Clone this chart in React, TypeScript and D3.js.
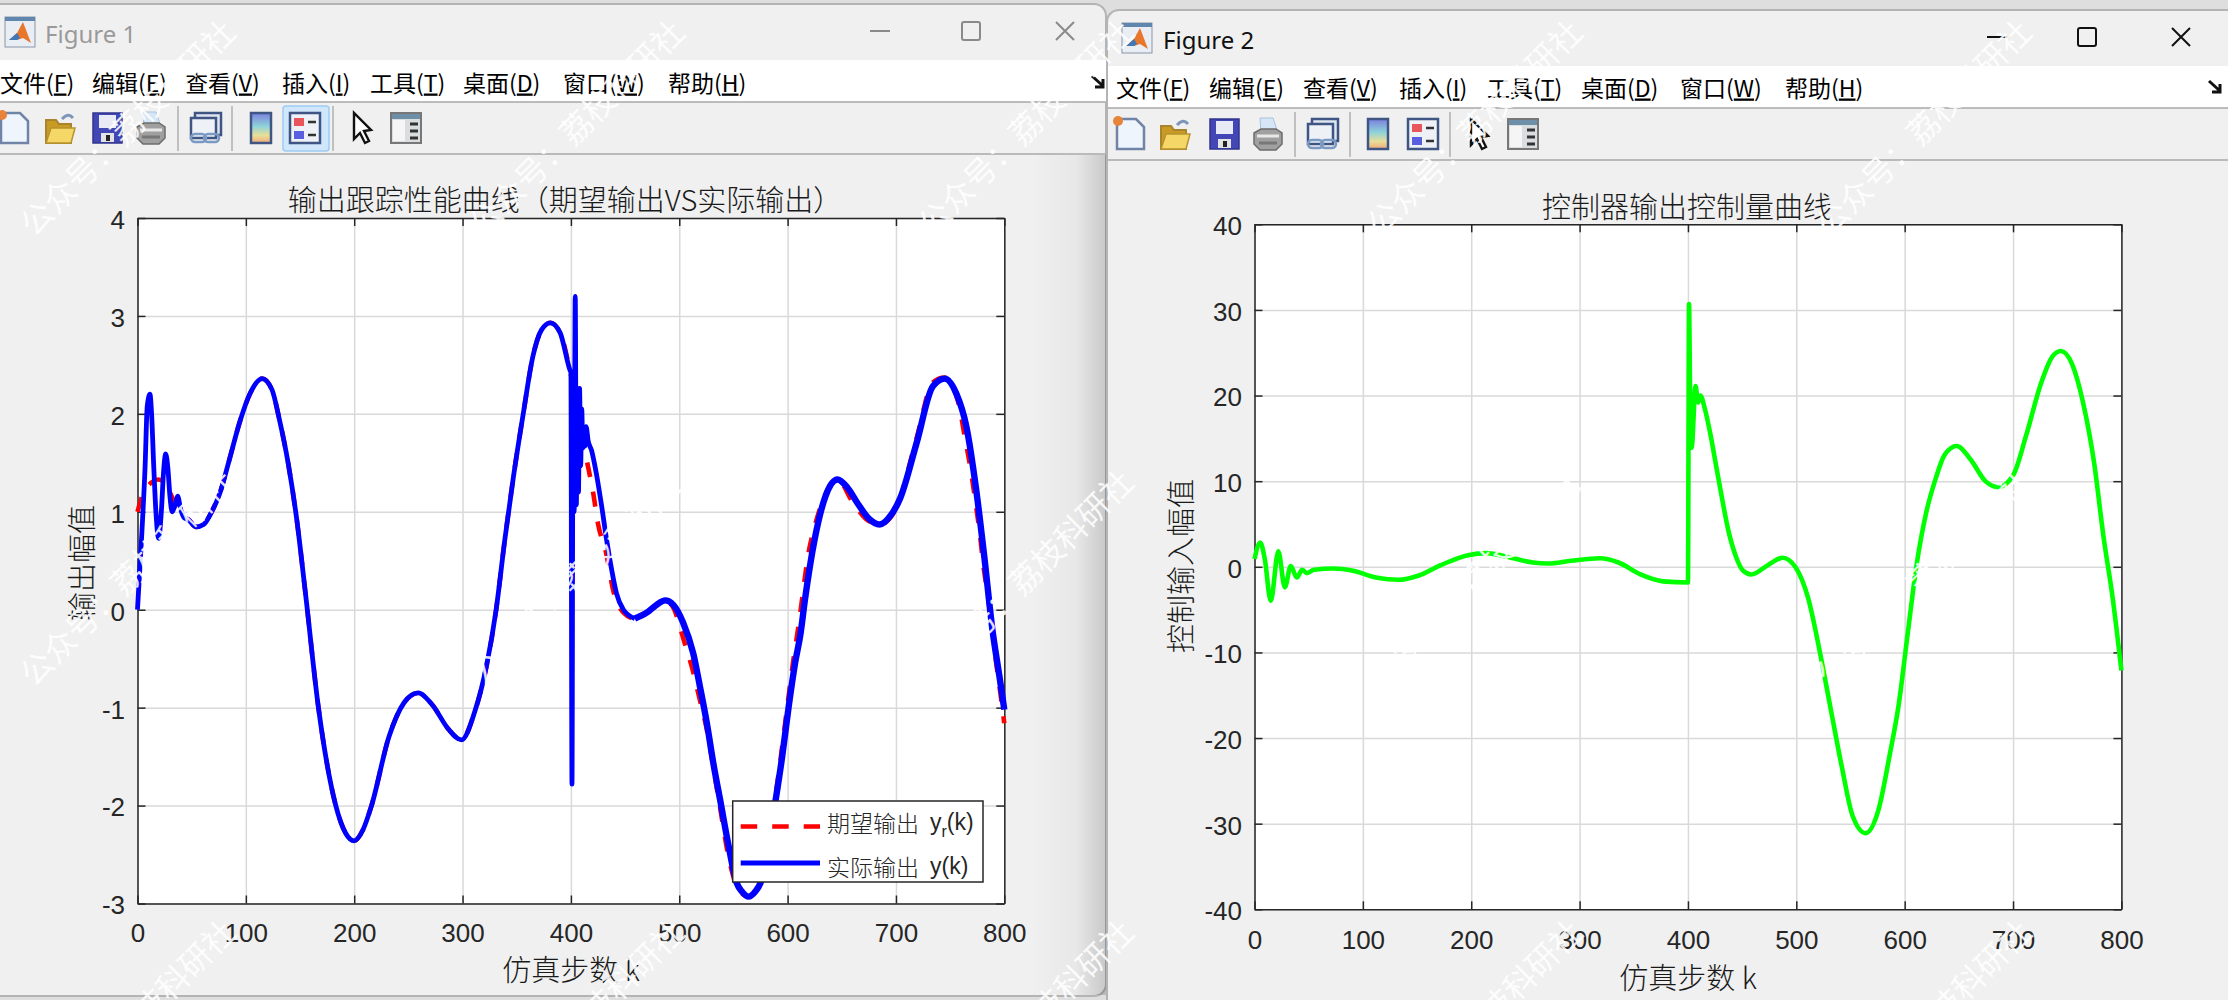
import { useEffect, useRef } from "react"
import type { ReactNode } from "react"
import * as d3 from "d3"

// values
const xTickValues = [0, 100, 200, 300, 400, 500, 600, 700, 800]
const outputTicks = [-3, -2, -1, 0, 1, 2, 3, 4]
const controlTicks = [-40, -30, -20, -10, 0, 10, 20, 30, 40]

// before k=400 the desired and actual outputs sit on top of each other
const sharedK = [43, 47, 54, 61, 68, 76, 84, 95, 104, 115, 124, 131, 139, 147, 155, 167, 183, 192, 200, 208, 216, 232, 246, 259, 272, 287, 299, 311, 322, 331, 339, 347, 356, 365, 373, 381, 390, 399]
const sharedV = [0.94, 0.92, 0.845, 0.87, 0.99, 1.19, 1.5, 1.94, 2.21, 2.36, 2.25, 1.94, 1.5, 0.92, 0.17, -1.0, -2.0, -2.28, -2.36, -2.25, -2.0, -1.3, -0.95, -0.85, -0.97, -1.22, -1.33, -1.05, -0.58, 0, 0.715, 1.36, 2.0, 2.59, 2.86, 2.93, 2.83, 2.45]

const actualK = [0, 4, 7, 9, 11.5, 13, 15, 17, 19.5, 22, 24, 26, 28, 30, 32, 35, 37, 40, ...sharedK,
  400, 401, 402, 403, 404, 405, 406, 407, 408, 409, 410, 411, 412, 413, 414, 416, 419, 423.5, 428.5, 433, 437.6, 442, 448.5, 459, 470, 479, 487, 494.5, 503.5, 513, 519, 525.5, 531.5, 537.7, 545, 553, 558, 564, 570, 575, 589, 595, 601, 607, 612, 616, 625, 635, 646, 655, 665, 675, 685, 695, 704, 719, 734, 745, 755.6, 765, 774, 781.5, 789, 795.5, 800]
const actualV = [0, 0.78, 1.46, 2.08, 2.2, 2.0, 1.46, 1.0, 0.73, 1.0, 1.4, 1.59, 1.45, 1.15, 1.0, 1.08, 1.16, 1.02, ...sharedV,
  2.42, -1.78, 2.4, 1.0, 3.2, 1.07, 2.1, 1.2, 2.26, 1.47, 2.05, 1.65, 1.85, 1.67, 1.87, 1.72, 1.63, 1.39, 1.05, 0.71, 0.41, 0.17, 0, -0.09, -0.03, 0.05, 0.095, 0.05, -0.13, -0.45, -0.78, -1.16, -1.57, -1.94, -2.38, -2.79, -2.88, -2.93, -2.88, -2.79, -1.94, -1.5, -0.99, -0.54, -0.24, 0.1, 0.72, 1.16, 1.33, 1.25, 1.08, 0.93, 0.87, 0.96, 1.14, 1.7, 2.28, 2.36, 2.21, 1.87, 1.23, 0.545, -0.2, -0.68, -1.02]

const desiredK = [0, 4, 13, 19, 25, 34, ...sharedK,
  400, 408, 414, 420.6, 425, 432.5, 439, 448.5, 459, 470, 479, 487, 494, 505, 511.5, 519, 525, 536, 547, 553, 564, 575, 589.6, 599, 605, 610, 620, 625, 635, 646, 660, 672, 685, 700, 719, 734, 745, 757.7, 763.9, 769, 773, 777.7, 780.8, 784.5, 788.5, 792.5, 796, 800]
const desiredV = [1.0, 1.15, 1.3, 1.33, 1.3, 1.1, ...sharedV,
  2.4, 1.9, 1.56, 1.19, 0.88, 0.58, 0.2, -0.03, -0.09, -0.03, 0.04, 0.09, 0.03, -0.34, -0.58, -0.92, -1.2, -1.91, -2.6, -2.82, -2.93, -2.75, -1.84, -1.05, -0.54, -0.17, 0.62, 0.85, 1.18, 1.33, 1.1, 0.93, 0.87, 1.03, 1.75, 2.32, 2.37, 2.11, 1.74, 1.43, 1.13, 0.75, 0.44, 0.17, -0.17, -0.54, -0.82, -1.16]

const controlK = [0, 5.3, 9.5, 15, 22, 28, 33.5, 39, 44, 48.4, 55, 73, 91, 112, 133, 151, 172, 197, 214.4, 235.6, 257, 271, 292, 318.6, 336, 355.7, 377, 400,
  401, 402, 403.4, 407, 409.4, 411.5, 415.7, 421, 426, 431.6, 437, 444, 451, 458.5, 474, 487.5, 499.3, 511, 521.5, 531.6, 541.9, 552, 564, 576, 586, 594.6, 603, 611, 620, 628.6, 637, 648, 661, 674.5, 686.5, 700.5, 712, 726, 736, 744.2, 754.4, 764.6, 775, 783.4, 792, 800]
const controlV = [0.9, 2.84, 0.9, -3.97, 1.8, -2.4, 0.1, -1.25, -0.35, -0.74, -0.35, -0.2, -0.47, -1.25, -1.52, -1.05, 0.2, 1.36, 1.6, 1.09, 0.5, 0.39, 0.7, 1.0, 0.5, -0.86, -1.7, -1.83,
  30.7, 20, 13.9, 21.1, 19.2, 20, 18.4, 15.3, 11.8, 7.9, 4.4, 1.3, -0.47, -0.9, 0.22, 1.06, -0.06, -3.7, -9.8, -16.5, -23.3, -29.1, -31.1, -28.3, -22.1, -16, -7.6, 0.22, 6.4, 10.3, 13.1, 14.1, 12.5, 10, 9.3, 10.8, 15.3, 21.5, 24.5, 25.2, 23.7, 19.2, 12, 3.6, -3.7, -12.1]

const menuItems: [string, string][] = [["文件", "F"], ["编辑", "E"], ["查看", "V"], ["插入", "I"], ["工具", "T"], ["桌面", "D"], ["窗口", "W"], ["帮助", "H"]]
const menuX1 = [0, 92, 185, 282, 370, 463, 563, 668]
const menuX2 = [1116, 1209, 1303, 1399, 1487, 1581, 1680, 1785]
const toolX1 = [14, 60, 107, 151, 206, 261, 305, 362, 406]
const toolX2 = [1130, 1175, 1224, 1268, 1323, 1378, 1423, 1479, 1523]
const sepX1 = [178, 232, 333]
const sepX2 = [1295, 1350, 1450]
const watermarkColumns = [0, 1, 2, 3, 4]
const watermarkRows = [0, 1, 2]

const cjk = '"Noto Sans CJK SC", "Liberation Sans", sans-serif'
const latin = '"Liberation Sans", "Noto Sans CJK SC", sans-serif'
const ink = "#262626"

type FrameProps = {
  x: d3.ScaleLinear<number, number>
  y: d3.ScaleLinear<number, number>
  yTicks: number[]
  xPad: number
}

function AxesFrame({ x, y, yTicks, xPad }: FrameProps) {
  const ref = useRef<SVGGElement>(null)

  useEffect(() => {
    if (!ref.current) return
    const g = d3.select(ref.current)
    g.selectAll("*").remove()
    const [x0, x1] = x.range()
    const [y1, y0] = y.range()
    const blank = () => ""

    const gridX = g.append("g").attr("transform", `translate(0,${y1})`)
      .call(d3.axisBottom(x).tickValues(xTickValues).tickSize(y0 - y1).tickFormat(blank))
    const gridY = g.append("g").attr("transform", `translate(${x0},0)`)
      .call(d3.axisRight(y).tickValues(yTicks).tickSize(x1 - x0).tickFormat(blank))
    for (const grid of [gridX, gridY]) {
      grid.select(".domain").remove()
      grid.selectAll("line").attr("stroke", "#d9d9d9").attr("stroke-width", 1.5)
    }

    const fmt = (d: d3.NumberValue) => String(d)
    const axes = [
      g.append("g").attr("transform", `translate(0,${y1})`)
        .call(d3.axisBottom(x).tickValues(xTickValues).tickSizeInner(-8).tickSizeOuter(0).tickPadding(xPad).tickFormat(fmt)),
      g.append("g").attr("class", "left").attr("transform", `translate(${x0},0)`)
        .call(d3.axisLeft(y).tickValues(yTicks).tickSizeInner(-8).tickSizeOuter(0).tickPadding(12.5).tickFormat(fmt)),
      g.append("g").attr("transform", `translate(0,${y0})`)
        .call(d3.axisTop(x).tickValues(xTickValues).tickSizeInner(-8).tickSizeOuter(0).tickFormat(blank)),
      g.append("g").attr("transform", `translate(${x1},0)`)
        .call(d3.axisRight(y).tickValues(yTicks).tickSizeInner(-8).tickSizeOuter(0).tickFormat(blank)),
    ]
    for (const a of axes) {
      a.attr("font-family", latin).attr("font-size", 26)
      a.selectAll(".domain").attr("stroke", ink).attr("stroke-width", 1.5)
      a.selectAll("line").attr("stroke", ink).attr("stroke-width", 1.5)
      a.selectAll("text").attr("fill", ink)
    }
    g.selectAll(".left text").attr("dy", "0.4em")
  }, [x, y, yTicks, xPad])

  return <g ref={ref} />
}

function lineOf(k: number[], v: number[], x: d3.ScaleLinear<number, number>, y: d3.ScaleLinear<number, number>) {
  const line = d3.line<number>()
    .x(d => x(d))
    .y((_, i) => y(v[i]))
    .curve(d3.curveMonotoneX)
  return line(k) || ""
}

function Label({ x, y, rotate, children }: { x: number; y: number; rotate?: number; children: ReactNode }) {
  return (
    <text x={x} y={y} fontFamily={cjk} fontSize={29} fontWeight={300} fill="#1a1a1a" textAnchor="middle" dominantBaseline="central"
      transform={rotate ? `rotate(${rotate} ${x} ${y})` : undefined}>
      {children}
    </text>
  )
}

function OutputFigure() {
  const x = d3.scaleLinear().domain([0, 800]).range([137.5, 1004.3])
  const y = d3.scaleLinear().domain([-3, 4]).range([903.5, 218])
  const split = actualK.indexOf(459)
  return (
    <g>
      <rect x={137.5} y={218} width={866.8} height={685.5} fill="#fff" />
      <AxesFrame x={x} y={y} yTicks={outputTicks} xPad={20} />
      <path d={lineOf(desiredK, desiredV, x, y)} fill="none" stroke="#ff0000" strokeWidth={4.6} strokeDasharray="15 15" />
      <path d={lineOf(actualK.slice(0, split + 1), actualV.slice(0, split + 1), x, y)} fill="none" stroke="#0000ff" strokeWidth={4.8} strokeLinejoin="round" />
      <path d={lineOf(actualK.slice(split), actualV.slice(split), x, y)} fill="none" stroke="#0000ff" strokeWidth={6.4} strokeLinejoin="round" />
      <Label x={565} y={198}>输出跟踪性能曲线（期望输出VS实际输出）</Label>
      <Label x={80} y={563} rotate={-90}>输出幅值</Label>
      <Label x={571} y={968}>仿真步数 k</Label>

      <rect x={732.7} y={801} width={250.3} height={81} fill="#fff" stroke={ink} strokeWidth={1.5} />
      <path d="M740.7 826.5H820" stroke="#ff0000" strokeWidth={4.6} strokeDasharray="16.5 15" />
      <path d="M740.7 863H820" stroke="#0000ff" strokeWidth={4.8} />
      <text x={827} y={822} fontFamily={cjk} fontSize={23} fontWeight={300} fill={ink} dominantBaseline="central">
        期望输出<tspan fontFamily={latin} dx={11}>y</tspan><tspan fontFamily={latin} fontSize={16} dy={9}>r</tspan><tspan fontFamily={latin} dy={-9}>(k)</tspan>
      </text>
      <text x={827} y={866} fontFamily={cjk} fontSize={23} fontWeight={300} fill={ink} dominantBaseline="central">
        实际输出<tspan fontFamily={latin} dx={11}>y(k)</tspan>
      </text>
    </g>
  )
}

function ControlFigure() {
  const x = d3.scaleLinear().domain([0, 800]).range([1254.5, 2121.4])
  const y = d3.scaleLinear().domain([-40, 40]).range([909.3, 224.3])
  return (
    <g>
      <rect x={1254.5} y={224.3} width={866.9} height={685} fill="#fff" />
      <AxesFrame x={x} y={y} yTicks={controlTicks} xPad={21} />
      <path d={lineOf(controlK, controlV, x, y)} fill="none" stroke="#00ff00" strokeWidth={4.6} strokeLinejoin="round" />
      <Label x={1687} y={205}>控制器输出控制量曲线</Label>
      <Label x={1179} y={566} rotate={-90}>控制输入幅值</Label>
      <Label x={1688} y={976}>仿真步数 k</Label>
    </g>
  )
}

function ToolIcon({ kind, cx, cy }: { kind: number; cx: number; cy: number }) {
  const frame = "#3f5685"
  const icons: ReactNode[] = [
    <g key="new">
      <path d="M-13 -15H6L14 -7V15H-13Z" fill="#eef5fd" stroke="#6f84a6" strokeWidth={2.5} />
      <circle cx={-12} cy={-13} r={5} fill="#e8833a" />
    </g>,
    <g key="open">
      <path d="M-14 -8H-4L-1 -4H11V15H-14Z" fill="#c99a24" stroke="#a8842c" strokeWidth={2} />
      <path d="M-14 15L-9 0H15L11 15Z" fill="#f5d768" stroke="#b8922e" strokeWidth={1.5} />
      <path d="M2 -9Q8 -16 13 -10" fill="none" stroke="#7c97bb" strokeWidth={3} />
    </g>,
    <g key="save">
      <rect x={-14} y={-15} width={29} height={30} fill="#4347b5" stroke="#32358f" strokeWidth={1.5} />
      <rect x={-8} y={-13} width={17} height={13} fill="#e8eaf6" />
      <rect x={-6} y={5} width={13} height={9} fill="#e3e3e3" />
      <rect x={-1} y={7} width={4} height={6} fill="#222" />
    </g>,
    <g key="print">
      <path d="M-8 -16L5 -16L10 -1H-7Z" fill="#d6e6f7" stroke="#a9c2dd" strokeWidth={1} />
      <path d="M-14 -1L-7 -5H8L14 -1V10L8 16H-8L-14 10Z" fill="#a0a0a0" stroke="#6c6c6c" strokeWidth={1.5} />
      <path d="M-11 2H11" stroke="#e8e8e8" strokeWidth={3} />
      <path d="M-9 9H9" stroke="#777" strokeWidth={3} />
    </g>,
    <g key="link">
      <rect x={-11} y={-15} width={26} height={22} fill="#dfe6f1" stroke={frame} strokeWidth={2.5} />
      <rect x={-15} y={-10} width={25} height={20} fill="#eef2f7" stroke={frame} strokeWidth={2.5} />
      <rect x={-15} y={6} width={15} height={8} rx={4} fill="none" stroke="#7a9ac4" strokeWidth={2.5} />
      <rect x={-2} y={6} width={15} height={8} rx={4} fill="none" stroke="#7a9ac4" strokeWidth={2.5} />
    </g>,
    <g key="colorbar">
      <rect x={-10} y={-15} width={20} height={30} fill="url(#cbar)" stroke={frame} strokeWidth={2.5} />
    </g>,
    <g key="legend">
      <rect x={-15} y={-15} width={30} height={30} fill="#eef1f6" stroke={frame} strokeWidth={2.5} />
      <rect x={-11} y={-10} width={10} height={8} fill="#e8565c" />
      <rect x={-11} y={3} width={10} height={8} fill="#5a5fe0" />
      <path d="M3 -6H11M3 7H11" stroke="#333" strokeWidth={2.5} />
    </g>,
    <g key="cursor">
      <path d="M-8 -15V11L-2 5L3 15L7 13L2 3L9 2Z" fill="#fff" stroke="#111" strokeWidth={2.4} />
    </g>,
    <g key="panel">
      <rect x={-15} y={-15} width={30} height={30} fill="#d9dde0" stroke="#777" strokeWidth={2} />
      <rect x={-14} y={-14} width={28} height={5} fill="#6d8fa8" />
      <rect x={-13} y={-8} width={12} height={21} fill="#f5f5f5" />
      <path d="M4 -4H12M4 3H12M4 10H12" stroke="#333" strokeWidth={3} />
    </g>,
  ]
  return <g transform={`translate(${cx},${cy})`}>{icons[kind]}</g>
}

function AppIcon({ x, y }: { x: number; y: number }) {
  return (
    <g transform={`translate(${x},${y})`}>
      <rect x={0} y={0} width={30} height={30} fill="#e9eef4" stroke="#8796a8" strokeWidth={1} />
      <rect x={0} y={0} width={30} height={4} fill="#5f86ad" />
      <path d="M4 23L12 16L18 5L26 26L18 21L12 23Z" fill="#e8762b" />
      <path d="M4 23L12 16L15 21L12 23Z" fill="#3f77b8" />
    </g>
  )
}

function WindowChrome({ name, active, textX, textY, iconX, iconY, menuY, menuBand, toolBand, menuX, toolX, sepX, highlight, minX, maxX, closeX, btnY, chevronX }: {
  name: string; active: boolean; textX: number; textY: number; iconX: number; iconY: number; menuY: number; menuBand: [number, number]; toolBand: number
  menuX: number[]; toolX: number[]; sepX: number[]; highlight: boolean; minX: number; maxX: number; closeX: number; btnY: number; chevronX: number
}) {
  const bandLeft = menuX[0] > 1000 ? 1108 : 0
  const bandRight = menuX[0] > 1000 ? 2228 : 1106
  const btn = active ? "#111" : "#8a8a8a"
  const toolCy = (menuBand[1] + toolBand) / 2
  return (
    <g>
      <AppIcon x={iconX} y={iconY} />
      <text x={textX} y={textY} fontFamily='"Noto Sans", sans-serif' fontSize={24} fill={active ? "#111" : "#9a9a9a"} dominantBaseline="central">{name}</text>
      <path d={`M${minX - 10} ${btnY}H${minX + 10}`} stroke={btn} strokeWidth={2} />
      <rect x={maxX - 9} y={btnY - 9} width={18} height={18} rx={2} fill="none" stroke={btn} strokeWidth={2} />
      <path d={`M${closeX - 9} ${btnY - 9}L${closeX + 9} ${btnY + 9}M${closeX + 9} ${btnY - 9}L${closeX - 9} ${btnY + 9}`} stroke={btn} strokeWidth={2} />

      <rect x={bandLeft} y={menuBand[0]} width={bandRight - bandLeft} height={menuBand[1] - menuBand[0]} fill="#fff" />
      <path d={`M${bandLeft} ${menuBand[1]}H${bandRight}M${bandLeft} ${toolBand}H${bandRight}`} stroke="#a8a8a8" strokeWidth={1.5} />
      {menuItems.map(([label, key], i) => (
        <text key={label} x={menuX[i]} y={menuY - 1.5} fontFamily={cjk} fontSize={23} fill="#000" dominantBaseline="central">
          {label}(<tspan textDecoration="underline">{key}</tspan>)
        </text>
      ))}
      <path d={`M${chevronX - 6} ${menuY - 7}L${chevronX + 5} ${menuY + 3}M${chevronX + 5} ${menuY - 4}V${menuY + 4}H${chevronX - 3}`} stroke="#111" strokeWidth={3} fill="none" />
      {highlight && <rect x={283} y={106} width={46} height={45} rx={3} fill="#cfe6fb" stroke="#9ecbf5" strokeWidth={1.5} />}
      {sepX.map(s => <path key={s} d={`M${s} ${menuBand[1] + 4}V${toolBand - 3}`} stroke="#b0b0b0" strokeWidth={1.5} />)}
      {toolX.map((cx, i) => <ToolIcon key={i} kind={i} cx={cx} cy={toolCy} />)}
    </g>
  )
}

export default function App() {
  return (
    <svg width={2228} height={1000} viewBox="0 0 2228 1000" style={{ position: "absolute", left: 0, top: 0, display: "block" }}>
      <defs>
        <linearGradient id="cbar" x1="0" y1="0" x2="0" y2="1">
          <stop offset="0" stopColor="#7b7fe0" />
          <stop offset="0.45" stopColor="#8fd4d8" />
          <stop offset="0.75" stopColor="#e9de98" />
          <stop offset="1" stopColor="#f0a878" />
        </linearGradient>
        <linearGradient id="edgeShade" x1="0" y1="0" x2="1" y2="0">
          <stop offset="0" stopColor="#000" stopOpacity={0} />
          <stop offset="0.6" stopColor="#000" stopOpacity={0.035} />
          <stop offset="1" stopColor="#000" stopOpacity={0.17} />
        </linearGradient>
      </defs>
      <rect width={2228} height={1000} fill="#dedede" />

      {/* Figure 1 */}
      <rect x={-14} y={4} width={1120} height={992} rx={12} fill="#f0f0f0" stroke="#b4b4b4" strokeWidth={2} />
      <WindowChrome name="Figure 1" active={false} textX={45} textY={33} iconX={5} iconY={17} menuY={83} menuBand={[60, 102]} toolBand={154}
        menuX={menuX1} toolX={toolX1} sepX={sepX1} highlight minX={880} maxX={971} closeX={1065} btnY={31} chevronX={1098} />
      <OutputFigure />
      <rect x={1030} y={155} width={77} height={840} fill="url(#edgeShade)" />

      {/* Figure 2 */}
      <rect x={1107} y={10} width={1140} height={1010} rx={12} fill="#f0f0f0" stroke="#b4b4b4" strokeWidth={2} />
      <WindowChrome name="Figure 2" active textX={1163} textY={39} iconX={1122} iconY={23} menuY={88} menuBand={[66, 108]} toolBand={160}
        menuX={menuX2} toolX={toolX2} sepX={sepX2} highlight={false} minX={1997} maxX={2087} closeX={2181} btnY={37} chevronX={2215} />
      <ControlFigure />

      {/* watermark tiled over the whole screenshot */}
      {watermarkRows.map(r => watermarkColumns.map(c => {
        const wx = 24 + c * 449
        const wy = 228 + r * 450
        return (
          <text key={`${r}-${c}`} x={wx} y={wy} fontFamily={cjk} fontSize={32} fill="#fff" fillOpacity={0.88}
            dominantBaseline="central" transform={`rotate(-45 ${wx} ${wy})`}>
            公众号：荔枝科研社
          </text>
        )
      }))}
    </svg>
  )
}
